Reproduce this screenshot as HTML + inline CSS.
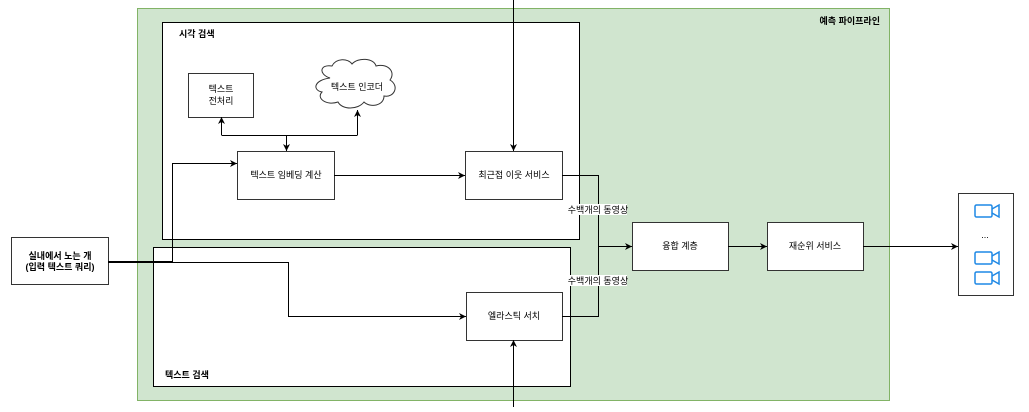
<!DOCTYPE html>
<html><head><meta charset="utf-8"><style>
body{margin:0;width:1029px;height:407px;background:#fff;overflow:hidden;font-family:"Liberation Sans","Noto Sans CJK KR",sans-serif}
svg text{font-family:"Liberation Sans","Noto Sans CJK KR",sans-serif;font-size:9px;fill:#000}
</style></head><body>
<svg width="1029" height="407" viewBox="0 0 1029 407" xmlns="http://www.w3.org/2000/svg">
<defs><marker id="a" markerWidth="8" markerHeight="8" refX="7" refY="4" orient="auto" markerUnits="userSpaceOnUse"><path d="M0,0.5 L7,4 L0,7.5 L2,4z" fill="#000"/></marker></defs>
<rect x="137.5" y="8.5" width="752" height="392" fill="#d0e5cf" stroke="#82b366"/>
<text x="880" y="24" text-anchor="end" font-weight="bold">예측 파이프라인</text>
<rect x="162.5" y="22.5" width="417" height="217" fill="#fff" stroke="#000"/>
<text x="179" y="37" font-weight="bold">시각 검색</text>
<rect x="153.5" y="247.5" width="417" height="139" fill="#fff" stroke="#000"/>
<text x="165" y="378" font-weight="bold">텍스트 검색</text>
<g fill="#fff" stroke="#333" stroke-width="1">
<rect x="188.5" y="73.5" width="65" height="44"/>
<rect x="237.5" y="151.5" width="97" height="48"/>
<rect x="465.5" y="151.5" width="97" height="48"/>
<rect x="466.5" y="292.5" width="96" height="48"/>
<rect x="632.5" y="222.5" width="96" height="48"/>
<rect x="767.5" y="222.5" width="96" height="48"/>
<rect x="11.5" y="237.5" width="97" height="47"/>
<rect x="958.5" y="193.5" width="55" height="102"/>
<path d="M330,78 C318,74 320,64 332,66 C336,58 348,58 352,64 C358,57 374,58 376,66 C388,63 396,72 390,80 C400,86 394,98 384,96 C384,106 370,108 364,102 C358,110 342,110 338,102 C326,106 316,98 322,92 C312,90 314,80 330,78 Z"/>
</g>
<g text-anchor="middle">
<text x="221" y="92">텍스트</text><text x="221" y="104">전처리</text>
<text x="357" y="90">텍스트 인코더</text>
<text x="286" y="178">텍스트 임베딩 계산</text>
<text x="514" y="178">최근접 이웃 서비스</text>
<text x="514" y="319">엘라스틱 서치</text>
<text x="680" y="249">융합 계층</text>
<text x="815" y="249">재순위 서비스</text>
<text x="60" y="259" font-weight="bold">실내에서 노는 개</text>
<text x="60" y="270" font-weight="bold">(입력 텍스트 쿼리)</text>
<text x="985" y="238">...</text>
</g>
<g fill="none" stroke="#000" stroke-width="1">
<path d="M513.5,0 V151" marker-end="url(#a)"/>
<path d="M513.5,407 V340" marker-end="url(#a)"/>
<path d="M286.5,135 V151" marker-end="url(#a)"/>
<path d="M221.5,135.5 H357.5"/>
<path d="M221.5,135 V117" marker-end="url(#a)"/>
<path d="M357.5,135 V110" marker-end="url(#a)"/>
<path d="M334,175.5 H465" marker-end="url(#a)"/>
<path d="M108,261.5 H172.5 V163.5 H237" marker-end="url(#a)"/>
<path d="M108,262.5 H288.5 V316.5 H466" marker-end="url(#a)"/>
<path d="M562,175.5 H598.5 V316.5 H562"/>
<path d="M598,246.5 H632" marker-end="url(#a)"/>
<path d="M728,246.5 H767" marker-end="url(#a)"/>
<path d="M863,246.5 H958" marker-end="url(#a)"/>
</g>
<rect x="569" y="204" width="58" height="11" fill="#fff"/>
<text x="598" y="213" text-anchor="middle" font-size="8">수백개의 동영상</text>
<rect x="569" y="275" width="58" height="11" fill="#fff"/>
<text x="598" y="284" text-anchor="middle" font-size="8">수백개의 동영상</text>
<g fill="none" stroke="#1e88e5" stroke-width="1.5">
<rect x="975" y="205" width="17" height="12" rx="1.5"/><path d="M992,209 L999,205 V217 L992,213"/>
<rect x="975" y="252" width="17" height="12" rx="1.5"/><path d="M992,256 L999,252 V264 L992,260"/>
<rect x="975" y="272" width="17" height="12" rx="1.5"/><path d="M992,276 L999,272 V284 L992,280"/>
</g>
</svg>
</body></html>
